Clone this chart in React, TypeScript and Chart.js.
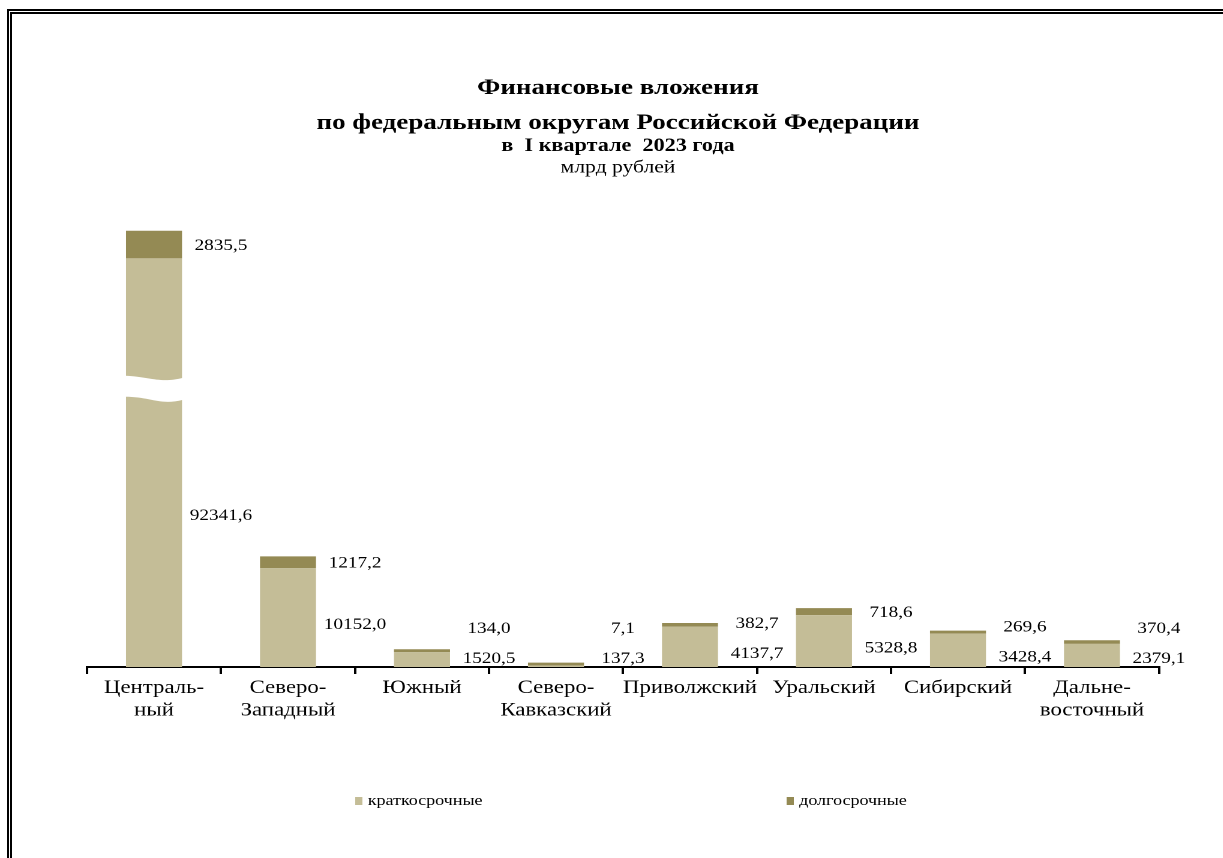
import { useEffect, useRef } from "react";
import { Chart, registerables } from "chart.js";

Chart.register(...registerables);

// ---- data ----
const districts: string[][] = [
  ["Централь-", "ный"],
  ["Северо-", "Западный"],
  ["Южный"],
  ["Северо-", "Кавказский"],
  ["Приволжский"],
  ["Уральский"],
  ["Сибирский"],
  ["Дальне-", "восточный"],
];
const shortTerm = [92341.6, 10152.0, 1520.5, 137.3, 4137.7, 5328.8, 3428.4, 2379.1];
const longTerm = [2835.5, 1217.2, 134.0, 7.1, 382.7, 718.6, 269.6, 370.4];
const seriesNames = ["краткосрочные", "долгосрочные"];
const titleLines = [
  "Финансовые вложения",
  "по федеральным округам Российской Федерации",
  "в  I квартале  2023 года",
  "млрд рублей",
];

// axis settings (value units)
const Y_MAX = 48000;
const BREAK_CAP = 42000; // displayed height of a bar that passes the axis break
const BREAK_AT = 28700; // where the break mark is drawn

// ---- style ----
const SHORT_COLOR = "#C4BD97";
const LONG_COLOR = "#948A54";
const SERIF = "'Liberation Serif', 'Times New Roman', serif";
const STRETCH = 1.2;
const W = 1019;
const H = 858;
const BASE_Y = 667;

const fmt = (v: number) => v.toFixed(1).replace(".", ",");

const decorPlugin = {
  id: "decor",
  afterDatasetsDraw(chart: any) {
    const { ctx } = chart;
    const x = chart.scales.x;
    const y = chart.scales.y;
    const sMeta = chart.getDatasetMeta(0);
    const lMeta = chart.getDatasetMeta(1);
    const half = (x.getPixelForValue(1) - x.getPixelForValue(0)) / 2;
    const base = y.getPixelForValue(0);
    ctx.save();
    // axis break mark
    shortTerm.forEach((v, i) => {
      if (v <= BREAK_CAP) return;
      const bar = sMeta.data[i];
      const L = bar.x - bar.width / 2 - 1;
      const R = bar.x + bar.width / 2 + 1;
      const w = R - L;
      const yc = y.getPixelForValue(BREAK_AT);
      ctx.fillStyle = "#ffffff";
      ctx.beginPath();
      ctx.moveTo(L, yc - 12);
      ctx.bezierCurveTo(L + 0.45 * w, yc - 11, L + 0.6 * w, yc - 4, R, yc - 10);
      ctx.lineTo(R, yc + 12);
      ctx.bezierCurveTo(L + 0.6 * w, yc + 18, L + 0.45 * w, yc + 9, L, yc + 9);
      ctx.closePath();
      ctx.fill();
    });
    // value labels
    ctx.font = `16px ${SERIF}`;
    ctx.fillStyle = "#000";
    ctx.textAlign = "center";
    ctx.textBaseline = "middle";
    shortTerm.forEach((v, i) => {
      const sb = sMeta.data[i];
      const lb = lMeta.data[i];
      const lx = sb.x + half;
      let sy: number;
      if (v > BREAK_CAP) sy = y.getPixelForValue(BREAK_CAP * 0.37);
      else sy = Math.min((sb.y + base) / 2 + 7, base - 8);
      const lc = (lb.y + lb.base) / 2 + 1;
      const ly = v > BREAK_CAP ? lc : Math.min(lc, sy - 30);
      ctx.fillText(fmt(v), lx, sy);
      ctx.fillText(fmt(longTerm[i]), lx, ly);
    });
    ctx.restore();
  },
  afterDraw(chart: any) {
    const { ctx } = chart;
    ctx.save();
    ctx.fillStyle = "#000";
    ctx.textAlign = "center";
    ctx.textBaseline = "middle";
    const cx = 515;
    ctx.font = `bold 22.5px ${SERIF}`;
    ctx.fillText(titleLines[0], cx, 88);
    ctx.fillText(titleLines[1], cx, 123);
    ctx.font = `bold 18.5px ${SERIF}`;
    ctx.fillText(titleLines[2], cx, 146);
    ctx.font = `18px ${SERIF}`;
    ctx.fillText(titleLines[3], cx, 168);

    // legend
    const legendX = [296, 655.5];
    ctx.textAlign = "left";
    ctx.font = `15px ${SERIF}`;
    chart.data.datasets.forEach((ds: any, i: number) => {
      ctx.fillStyle = ds.backgroundColor;
      ctx.fillRect(legendX[i], 797, 6, 8);
      ctx.fillStyle = "#000";
      ctx.fillText(ds.label, legendX[i] + 10.5, 801);
    });
    ctx.restore();
  },
};

export default function App() {
  const ref = useRef<HTMLCanvasElement | null>(null);

  useEffect(() => {
    if (!ref.current) return;
    const chart = new Chart(ref.current, {
      type: "bar",
      data: {
        labels: districts,
        datasets: [
          {
            label: seriesNames[0],
            data: shortTerm.map((v) => Math.min(v, BREAK_CAP)),
            backgroundColor: SHORT_COLOR,
            barPercentage: 0.418,
            categoryPercentage: 1,
          },
          {
            label: seriesNames[1],
            data: longTerm,
            backgroundColor: LONG_COLOR,
            barPercentage: 0.418,
            categoryPercentage: 1,
            minBarLength: 3,
          },
        ],
      },
      options: {
        responsive: false,
        devicePixelRatio: 2,
        animation: false,
        events: [],
        layout: { padding: { left: 72.5, right: W - 965.8, top: 200, bottom: 0 } },
        plugins: {
          legend: { display: false },
          title: { display: false },
          tooltip: { enabled: false },
        },
        scales: {
          x: {
            stacked: true,
            offset: true,
            grid: {
              display: true,
              offset: true,
              drawOnChartArea: false,
              drawTicks: true,
              tickLength: 7,
              color: "#000",
              lineWidth: 2,
            },
            border: { display: true, color: "#000", width: 2 },
            ticks: {
              color: "#000",
              font: { family: SERIF, size: 19, lineHeight: 1.17 },
              padding: 3,
              maxRotation: 0,
              minRotation: 0,
              autoSkip: false,
            },
            afterFit: (axis: any) => {
              axis.height = H - BASE_Y;
            },
          },
          y: { stacked: true, display: false, min: 0, max: Y_MAX },
        },
      },
      plugins: [decorPlugin],
    } as any);
    return () => chart.destroy();
  }, []);

  return (
    <>
      <div
        style={{
          position: "absolute",
          left: 7,
          top: 9,
          width: 1216,
          height: 849,
          boxSizing: "border-box",
          borderTop: "5px double #000",
          borderLeft: "5px double #000",
        }}
      />
      <div
        style={{
          position: "absolute",
          left: 0,
          top: 0,
          width: W,
          height: H,
          transform: `scaleX(${STRETCH})`,
          transformOrigin: "0 0",
        }}
      >
        <canvas ref={ref} width={W} height={H} />
      </div>
    </>
  );
}
